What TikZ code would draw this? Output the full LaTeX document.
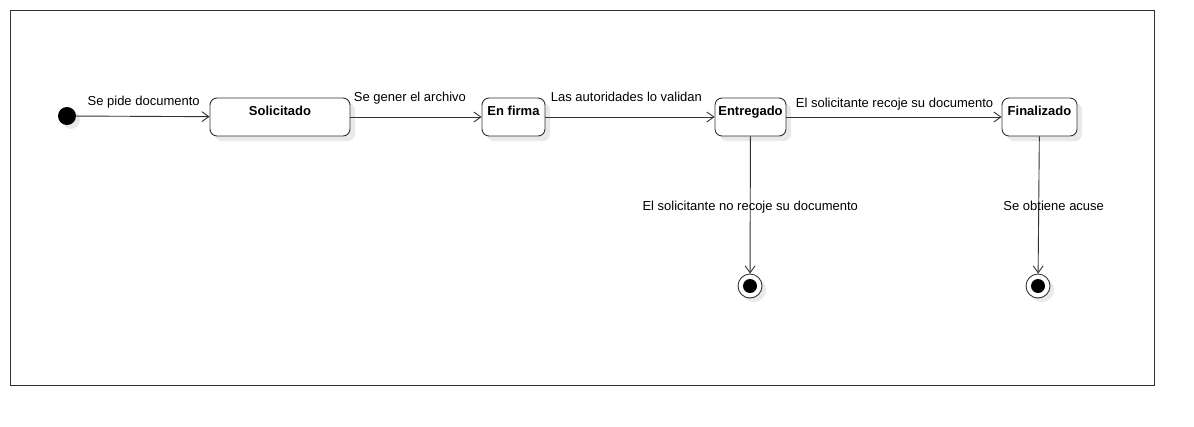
\documentclass[tikz,border=0pt]{standalone}
\usepackage{fontspec}
\setmainfont{Liberation Sans}
\usetikzlibrary{arrows.meta,positioning,shadows}
\definecolor{linegray}{HTML}{333333}
\definecolor{shadowgray}{HTML}{E9E9E9}

\tikzset{
	estado/.style={draw=linegray, fill=white, rounded corners=7pt, line width=0.9pt, minimum height=38pt, inner sep=3pt, font=\fontsize{13}{15}\selectfont\bfseries, text height=9pt, text depth=13pt, drop shadow={shadow xshift=5pt, shadow yshift=-5pt, fill=shadowgray, opacity=1}},
	inicial/.style={circle, fill=black, minimum size=18pt, inner sep=0pt, drop shadow={shadow xshift=4pt, shadow yshift=-4pt, fill=shadowgray, opacity=1}},
	final/.style={circle, draw=linegray, fill=white, line width=0.9pt, minimum size=24pt, inner sep=0pt, path picture={\fill[black] (path picture bounding box.center) circle (7pt);}, drop shadow={shadow xshift=4pt, shadow yshift=-4pt, fill=shadowgray, opacity=1}},
	trans/.style={draw=linegray, line width=0.9pt, -{Straight Barb[length=7pt,width=10pt]}},
	etiqueta/.style={font=\fontsize{13}{15}\selectfont, inner sep=2pt, text height=9pt, text depth=3pt}
}

\begin{document}
\begin{tikzpicture}[x=1pt,y=-1pt]
		\useasboundingbox (0,0) rectangle (1194,426);
		\draw[draw=linegray, line width=0.9pt] (10,10) rectangle (1154,385);
		
		\node[inicial] (ini) at (67,116) {};
		\node[estado, minimum width=140pt] (solicitado) at (280,117) {Solicitado};
		\node[estado, minimum width=63pt] (firma) at (513.5,117) {En firma};
		\node[estado, minimum width=71pt] (entregado) at (750.5,117) {Entregado};
		\node[estado, minimum width=75pt] (finalizado) at (1039.5,117) {Finalizado};
		\node[final] (fin1) at (750,286) {};
		\node[final] (fin2) at (1038,286) {};
		
		\draw[trans] (ini) -- node[etiqueta, pos=0, anchor=south west, xshift=9pt, yshift=5pt] {Se pide documento} (solicitado);
		\draw[trans] (solicitado) -- node[etiqueta, pos=0, anchor=south west, xshift=1pt, yshift=10pt] {Se gener el archivo} (firma);
		\draw[trans] (firma) -- node[etiqueta, pos=0, anchor=south west, xshift=3pt, yshift=10pt] {Las autoridades lo validan} (entregado);
		\draw[trans] (entregado) -- node[etiqueta, pos=0, anchor=south west, xshift=7pt, yshift=4pt] {El solicitante recoje su documento} (finalizado);
%		salidas hacia los estados finales
		\draw[trans] (entregado) -- node[etiqueta, midway, yshift=-2pt] {El solicitante no recoje su documento} (fin1);
		\draw[trans] (finalizado) -- node[etiqueta, midway, xshift=15pt, yshift=-2pt] {Se obtiene acuse} (fin2);
	\end{tikzpicture}
\end{document}
